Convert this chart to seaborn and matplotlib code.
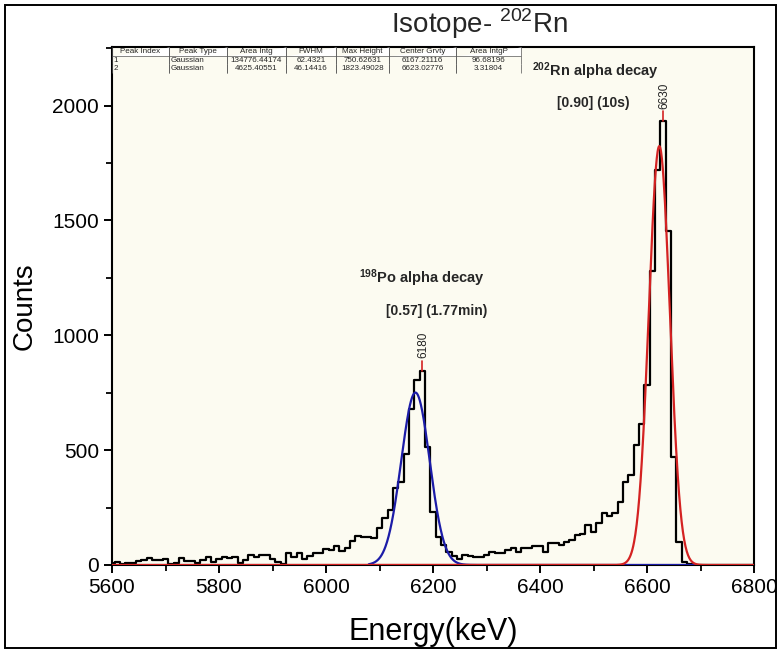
import numpy as np
import pandas as pd
import matplotlib
matplotlib.use("Agg")
import matplotlib.pyplot as plt
import seaborn as sns
from matplotlib.patches import Rectangle
from matplotlib.ticker import MultipleLocator

# ---------------- data ----------------
energy_start = 5600
bin_width = 10
counts = [
    7, 15, 4, 10, 10, 19, 22, 29, 22, 22,          # 5600-5690
    25, 4, 7, 29, 19, 16, 10, 22, 36, 15,          # 5700-5790
    25, 36, 30, 33, 10, 22, 44, 36, 42, 42,        # 5800-5890
    25, 15, 4, 54, 33, 54, 28, 39, 51, 54,         # 5900-5990
    68, 65, 83, 62, 72, 105, 125, 120, 122, 118,   # 6000-6090
    160, 205, 238, 334, 363, 485, 678, 806, 845, 515,  # 6100-6190
    232, 120, 88, 58, 38, 25, 45, 40, 36, 36,      # 6200-6290
    44, 58, 54, 54, 65, 73, 58, 76, 73, 83,        # 6300-6390
    83, 58, 94, 97, 88, 100, 110, 131, 135, 172,   # 6400-6490
    145, 182, 225, 212, 228, 274, 363, 392, 523, 615,  # 6500-6590
    784, 1278, 1720, 1931, 1452, 472, 102, 15, 3, 0,   # 6600-6690
    0, 0, 0, 0, 0, 0, 0, 0, 0, 0,                  # 6700-6790
    0,                                             # 6800
]
energy = [energy_start + bin_width * i for i in range(len(counts))]

# Gaussian fit parameters (from the fit table)
fit_centers = [6167.21116, 6623.02776]
fit_fwhm = [62.4321, 46.14416]
fit_heights = [750.62631, 1823.49028]
fit_colors = ["#1c1ca8", "#d42222"]
fit_ranges = [(6080, 6690), (5600, 6800)]

# peak markers
peak_positions = [6180, 6630]
peak_labels = ["6180", "6630"]

# table
table_cols = ["Peak Index", "Peak Type", "Area Intg", "FWHM", "Max Height", "Center Grvty", "Area IntgP"]
table_row1 = ["1", "Gaussian", "134776.44174", "62.4321", "750.62631", "6167.21116", "96.68196"]
table_row2 = ["2", "Gaussian", "4625.40551", "46.14416", "1823.49028", "6623.02776", "3.31804"]

xticks = [5600, 5800, 6000, 6200, 6400, 6600, 6800]
yticks = [0, 500, 1000, 1500, 2000]

# ---------------- style ----------------
sns.set_style("ticks")
plt.rcParams["font.family"] = ["Liberation Sans", "DejaVu Sans"]
plt.rcParams["mathtext.fontset"] = "custom"
plt.rcParams["mathtext.rm"] = "Liberation Sans"
plt.rcParams["mathtext.bf"] = "Liberation Sans:bold"

fig = plt.figure(figsize=(7.81, 6.52), dpi=100)
fig.patch.set_facecolor("white")
ax = fig.add_axes([112 / 781, 87 / 652, 642 / 781, 518 / 652])
ax.set_facecolor("#fcfbf1")

df = pd.DataFrame({"Energy": energy, "Counts": counts})
sns.lineplot(data=df, x="Energy", y="Counts", ax=ax, color="black", lw=1.6,
             drawstyle="steps-mid", estimator=None, zorder=3)

for c, w, h, col, (lo, hi) in zip(fit_centers, fit_fwhm, fit_heights, fit_colors, fit_ranges):
    xs = np.linspace(lo, hi, 1500)
    sig = w / (2 * np.sqrt(2 * np.log(2)))
    ys = h * np.exp(-0.5 * ((xs - c) / sig) ** 2)
    sns.lineplot(x=xs, y=ys, ax=ax, color=col, lw=1.6, estimator=None, zorder=4)

for pos, lab in zip(peak_positions, peak_labels):
    top = counts[energy.index(pos)]
    ax.plot([pos, pos], [top, top + 45], color="#d42222", lw=1.2, zorder=5)
    ax.text(pos + 2, top + 55, lab, rotation=90, ha="center", va="bottom",
            fontsize=8.5, color="#222222")

ax.text(6385, 2150, r"$\mathbf{^{202}}$Rn alpha decay", fontsize=10.5, fontweight="bold",
        ha="left", va="center")
ax.text(6500, 2010, "[0.90] (10s)", fontsize=10, fontweight="bold", ha="center", va="center")
ax.text(6062, 1250, r"$\mathbf{^{198}}$Po alpha decay", fontsize=10.5, fontweight="bold",
        ha="left", va="center")
ax.text(6112, 1105, "[0.57] (1.77min)", fontsize=10, fontweight="bold", ha="left", va="center")

ax.set_xlim(5600, 6800)
ax.set_ylim(0, 2255)
ax.set_xticks(xticks)
ax.set_yticks(yticks)
ax.xaxis.set_minor_locator(MultipleLocator(100))
ax.yaxis.set_minor_locator(MultipleLocator(250))
ax.tick_params(axis="both", which="major", direction="out", length=6, width=1.4,
               labelsize=15, top=False, right=False, color="black", labelcolor="black")
ax.tick_params(axis="both", which="minor", direction="out", length=4, width=1.3,
               top=False, right=False, color="black")
for sp in ax.spines.values():
    sp.set_visible(True)
    sp.set_linewidth(1.5)
    sp.set_color("black")

ax.set_xlabel("Energy(keV)", fontsize=22, color="black")
ax.xaxis.set_label_coords(0.5, -0.1)
ax.set_ylabel("Counts", fontsize=20, labelpad=10, color="black")
fig.text(480 / 781, 1 - 24 / 652, r"Isotope- $^{202}$Rn", fontsize=20, ha="center", va="center")

# table
tbl = ax.table(cellText=[table_row1, table_row2], colLabels=table_cols,
               cellLoc="center", bbox=[0.0, 1 - 26 / 518, 0.637, 26 / 518],
               colWidths=[57, 58, 59, 50, 53, 67, 65])
tbl.auto_set_font_size(False)
tbl.set_fontsize(5.8)
for (r, cidx), cell in tbl.get_celld().items():
    cell.set_facecolor("white")
    cell.set_edgecolor("#555555")
    cell.set_linewidth(0.5)
    cell.PAD = 0.02
    if r > 0 and cidx <= 1:
        cell._loc = "left"
        cell.get_text().set_ha("left")
    if r > 0:
        cell.visible_edges = "LR"
    else:
        cell.visible_edges = "LRB"
tbl.set_zorder(6)

# outer border
fig.patches.append(Rectangle((5 / 781, 4 / 652), 771 / 781, 643 / 652, transform=fig.transFigure,
                             fill=False, edgecolor="black", lw=1.4))

fig.savefig("out.png", dpi=100)
